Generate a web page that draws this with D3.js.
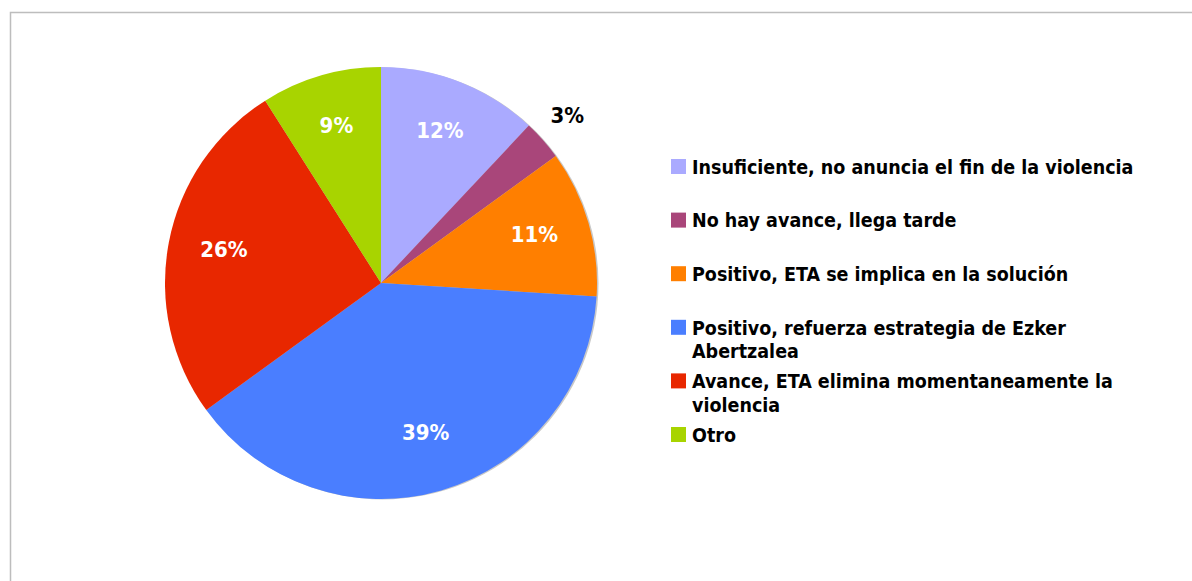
<!DOCTYPE html>
<html>
<head>
<meta charset="utf-8">
<script src="https://cdn.jsdelivr.net/npm/d3@7"></script>
<style>
  html, body { margin: 0; padding: 0; background: #fff; }
  svg { display: block; }
  text { font-family: "DejaVu Sans Condensed", "DejaVu Sans", sans-serif; font-weight: bold; }
</style>
</head>
<body>
<div id="vizArea"></div>
<script>
const categories = [
  'Insuficiente, no anuncia el fin de la violencia',
  'No hay avance, llega tarde',
  'Positivo, ETA se implica en la solución',
  'Positivo, refuerza estrategia de Ezker Abertzalea',
  'Avance, ETA elimina momentaneamente la violencia',
  'Otro'
]
const values = [12, 3, 11, 39, 26, 9]
const colors = ['#aaaaff', '#a9467a', '#ff7f00', '#4a7eff', '#e82700', '#a8d400']

const width = 1192, height = 581
const cx = 381, cy = 283, radius = 216

const svg = d3.select('#vizArea')
  .append('svg')
  .attr('width', width)
  .attr('height', height)

// frame (left + top border)
svg.append('path')
  .attr('d', `M10.5,${height} V12.5 H${width}`)
  .attr('fill', 'none')
  .attr('stroke', '#bdbdbd')
  .attr('stroke-width', 1.5)

const data = categories.map((c, i) => ({ name: c, value: values[i], color: colors[i] }))

const pie = d3.pie().value(d => d.value).sort(null)
const arcs = pie(data)

const arc = d3.arc().innerRadius(0).outerRadius(radius)
const labelArc = d3.arc().innerRadius(radius * 0.74).outerRadius(radius * 0.74)
const outerLabelArc = d3.arc().innerRadius(radius * 1.15).outerRadius(radius * 1.15)

const g = svg.append('g').attr('transform', `translate(${cx},${cy})`)

// soft shadow on the right edge
g.append('circle')
  .attr('cx', 1.5).attr('cy', 0.5)
  .attr('r', radius)
  .attr('fill', '#c8c8c8')

g.selectAll('path.slice')
  .data(arcs)
  .enter()
  .append('path')
  .attr('class', 'slice')
  .attr('d', arc)
  .attr('fill', d => d.data.color)

g.selectAll('text.pct')
  .data(arcs)
  .enter()
  .append('text')
  .attr('class', 'pct')
  .attr('transform', d => {
    const small = d.data.value < 5
    const p = small ? outerLabelArc.centroid(d) : labelArc.centroid(d)
    return `translate(${p[0]},${p[1]})`
  })
  .attr('text-anchor', 'middle')
  .attr('dy', '0.18em')
  .attr('font-size', 22)
  .attr('fill', d => d.data.value < 5 ? '#000' : '#fff')
  .text(d => d.data.value + '%')

// legend
const legendX = 671, legendY = 167, rowStep = 53.6, lineH = 23.5, maxW = 450
const legend = svg.append('g')

data.forEach((d, i) => {
  const y = legendY + i * rowStep
  legend.append('rect')
    .attr('x', legendX)
    .attr('y', y - 8)
    .attr('width', 15)
    .attr('height', 15)
    .attr('fill', d.color)

  const t = legend.append('text')
    .attr('x', legendX + 21)
    .attr('y', y)
    .attr('font-size', 19.5)
    .attr('fill', '#000')

  // simple word wrap
  const words = d.name.split(' ')
  let line = []
  let tspan = t.append('tspan').attr('x', legendX + 21).attr('dy', '0.35em')
  words.forEach(w => {
    line.push(w)
    tspan.text(line.join(' '))
    if (tspan.node().getComputedTextLength() > maxW && line.length > 1) {
      line.pop()
      tspan.text(line.join(' '))
      line = [w]
      tspan = t.append('tspan').attr('x', legendX + 21).attr('dy', lineH).text(w)
    }
  })
})
</script>
</body>
</html>
